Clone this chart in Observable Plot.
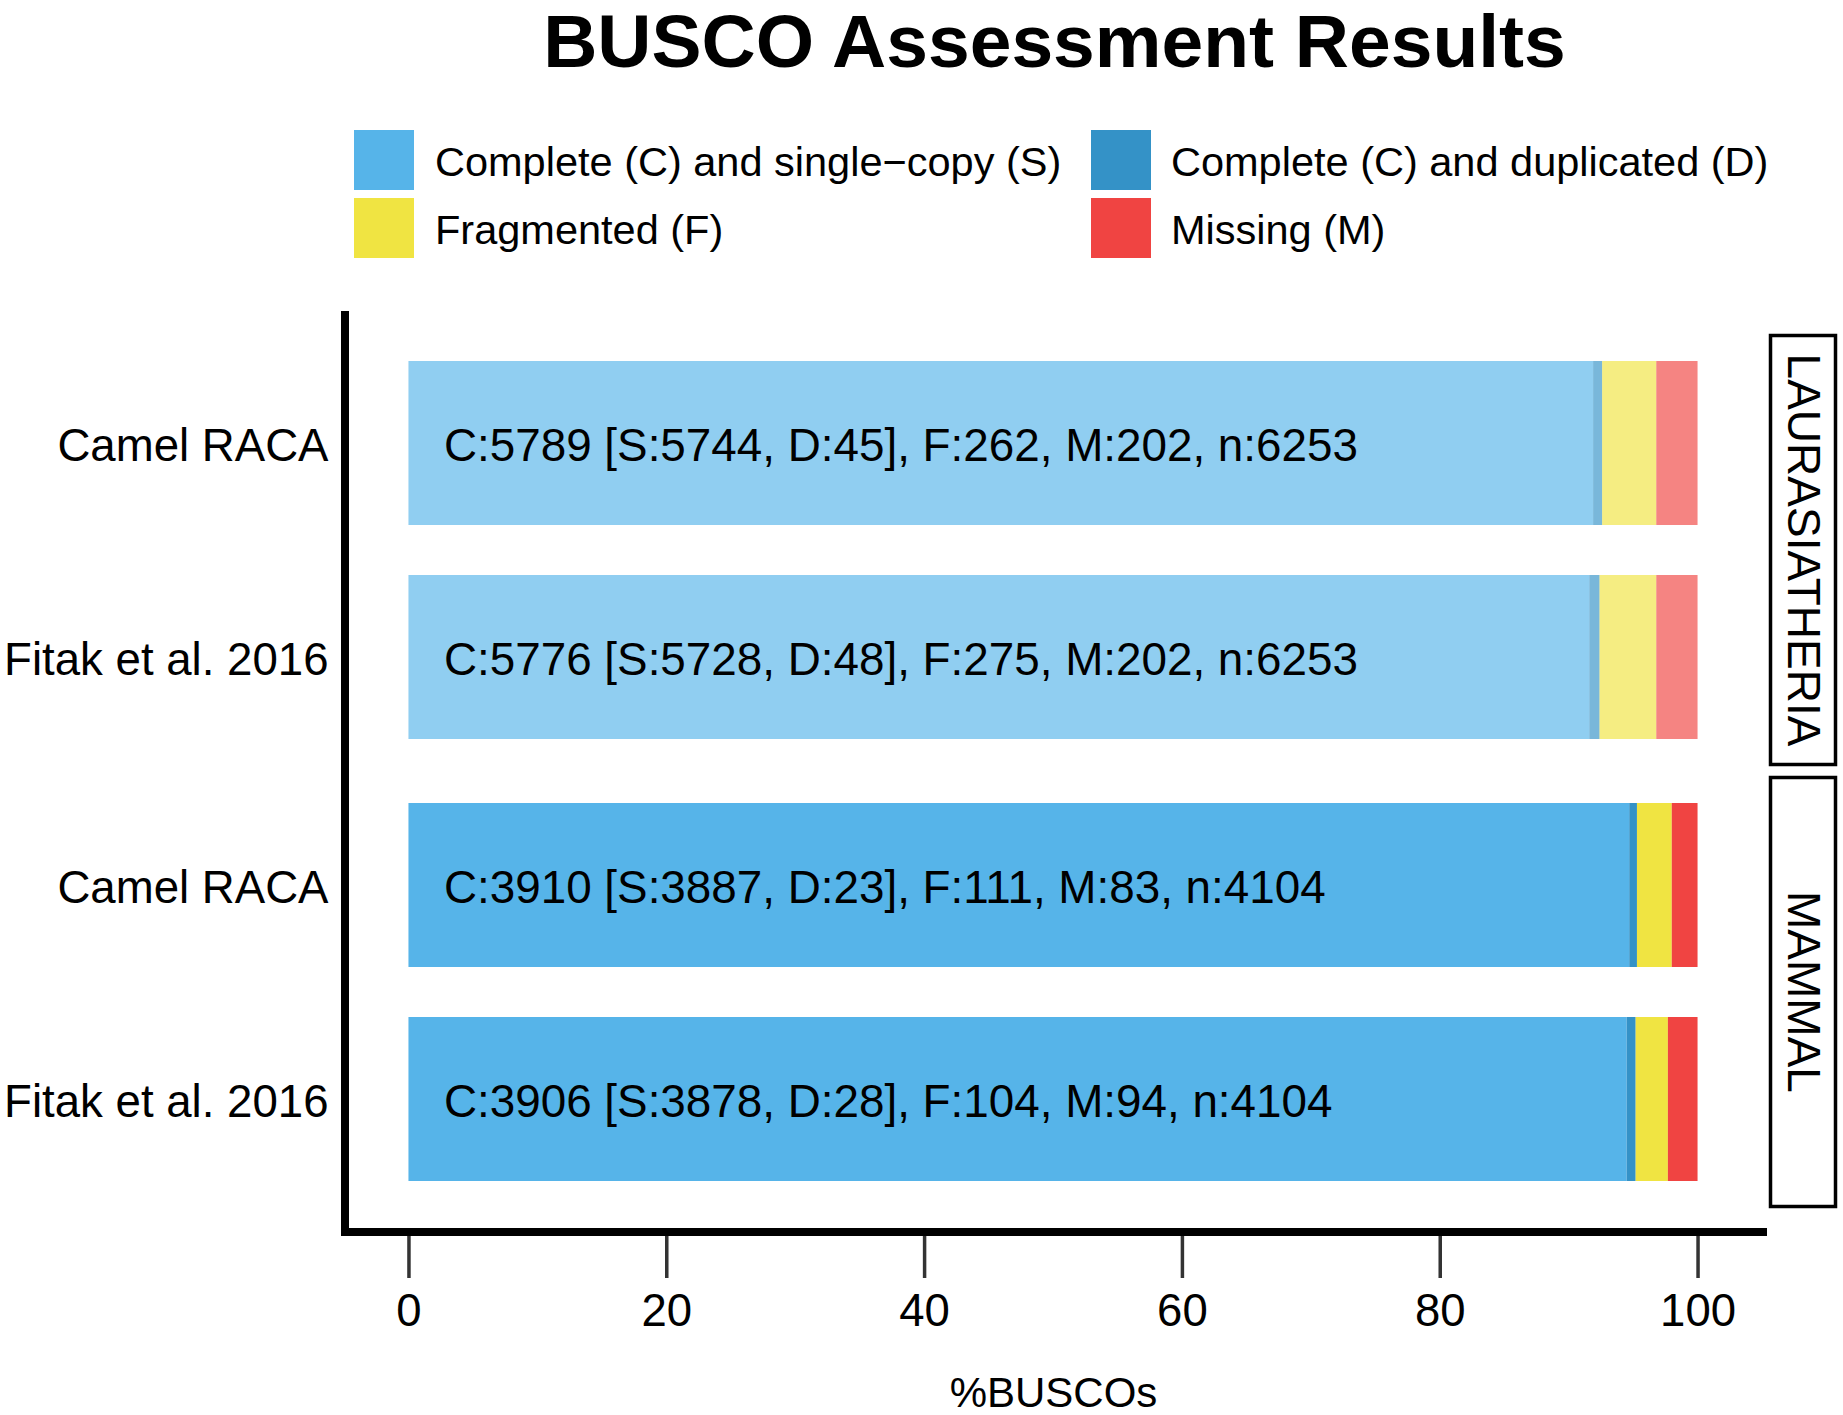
<!DOCTYPE html>
<html><head><meta charset="utf-8">
<script src="https://cdn.jsdelivr.net/npm/d3@7"></script>
<script src="https://cdn.jsdelivr.net/npm/@observablehq/plot@0.6"></script>
<style>
html,body{margin:0;padding:0;background:#fff;}
#root{position:relative;width:1843px;height:1415px;font-family:"Liberation Sans",Arial,Helvetica,sans-serif;color:#000;overflow:hidden;}
#title{position:absolute;left:344px;width:1421px;top:1px;text-align:center;font-size:75px;line-height:80px;font-weight:bold;}
.sw{position:absolute;width:60px;height:60px;}
.lt{position:absolute;font-size:41.5px;line-height:60px;white-space:nowrap;}
#chart{position:absolute;left:0;top:300px;}
</style></head>
<body>
<div id="root">
  <div id="title">BUSCO Assessment Results</div>
  <div id="legend"></div>
  <div id="chart"></div>
</div>
<script>
// ---- data ----
const panels = ["LAURASIATHERIA", "MAMMAL"];
const samples = ["Camel RACA", "Fitak et al. 2016"];
const rowPanel = ["LAURASIATHERIA", "LAURASIATHERIA", "MAMMAL", "MAMMAL"];
const rowSample = ["Camel RACA", "Fitak et al. 2016", "Camel RACA", "Fitak et al. 2016"];
const categories = [
  "Complete (C) and single\u2212copy (S)",
  "Complete (C) and duplicated (D)",
  "Fragmented (F)",
  "Missing (M)"
];
const colors = ["#56B4E9", "#3492C7", "#F0E442", "#F04442"];
const pctS = [91.9, 91.6, 94.7, 94.5];
const pctD = [0.7, 0.8, 0.6, 0.7];
const pctF = [4.2, 4.4, 2.7, 2.5];
const pctM = [3.2, 3.2, 2.0, 2.3];
const summaries = [
  "C:5789 [S:5744, D:45], F:262, M:202, n:6253",
  "C:5776 [S:5728, D:48], F:275, M:202, n:6253",
  "C:3910 [S:3887, D:23], F:111, M:83, n:4104",
  "C:3906 [S:3878, D:28], F:104, M:94, n:4104"
];
const xTicks = [0, 20, 40, 60, 80, 100];
const xDomain = [-5, 105];
const xLabel = "%BUSCOs";

// ---- legend (2 x 2) ----
const legendSlots = [[354, 130, 435], [1091, 130, 1171], [354, 198, 435], [1091, 198, 1171]];
const legend = document.getElementById("legend");
categories.forEach((c, i) => {
  const [sx, sy, tx] = legendSlots[i];
  const sw = document.createElement("div");
  sw.className = "sw"; sw.style.left = sx + "px"; sw.style.top = sy + "px"; sw.style.background = colors[i];
  const t = document.createElement("div");
  t.className = "lt"; t.style.left = tx + "px"; t.style.top = (sy + 1.5) + "px"; t.textContent = c;
  legend.appendChild(sw); legend.appendChild(t);
});

// ---- tidy tables ----
const series = [pctS, pctD, pctF, pctM];
const rows = [];
rowSample.forEach((s, i) => {
  categories.forEach((c, j) => rows.push({panel: rowPanel[i], sample: s, category: c, value: series[j][i]}));
});
const labels = rowSample.map((s, i) => ({panel: rowPanel[i], sample: s, text: summaries[i]}));

const chart = Plot.plot({
  width: 1843,
  height: 1115,
  marginTop: 35,
  marginBottom: 209,
  marginLeft: 344,
  marginRight: 81,
  style: {fontFamily: "'Liberation Sans', Arial, Helvetica, sans-serif", fontSize: "45px", background: "white", color: "black", overflow: "visible"},
  x: {domain: xDomain},
  y: {domain: samples, paddingInner: 0.235, paddingOuter: 0.1175},
  fy: {domain: panels, paddingInner: 13 / 442, paddingOuter: 0, axis: null},
  color: {domain: categories, range: colors},
  marks: [
    // facet strips on the right
    Plot.frame({fill: "white", stroke: "black", strokeWidth: 3.5, insetLeft: 1426, insetRight: -73}),
    Plot.text(panels, {fy: d => d, text: d => d, frameAnchor: "right", dx: 40, rotate: 90, textAnchor: "middle", lineAnchor: "middle", fontSize: 46, fill: "black"}),
    // stacked bars
    Plot.barX(rows.filter(d => d.panel === panels[0]), {x: "value", y: "sample", fy: "panel", fill: "category", fillOpacity: 0.66}),
    Plot.barX(rows.filter(d => d.panel === panels[1]), {x: "value", y: "sample", fy: "panel", fill: "category"}),
    Plot.text(labels, {x: () => 0, y: "sample", fy: "panel", text: "text", textAnchor: "start", dx: 35, dy: 3, fontSize: 45.8, fill: "black"}),
    // axis lines
    Plot.ruleX([xDomain[0]], {stroke: "black", strokeWidth: 8, insetTop: -24, insetBottom: -30, shapeRendering: "crispEdges"}),
    Plot.frame({facet: "super", anchor: "bottom", stroke: "black", strokeWidth: 8, insetBottom: -25.5, shapeRendering: "crispEdges"}),
    // axes
    Plot.axisX({ticks: xTicks, tickSize: 42, tickPadding: 15, dy: 30, fontSize: 45.5, stroke: "#333", strokeWidth: 3.5, label: null}),
    Plot.axisY({tickSize: 0, tickPadding: 16, dy: 3, fontSize: 45.6, label: null}),
    Plot.text([xLabel], {fy: [panels[1]], text: d => d, frameAnchor: "bottom", dy: 200, lineAnchor: "bottom", fontSize: 42, fill: "black"})
  ]
});
document.getElementById("chart").appendChild(chart);
</script>
</body></html>
